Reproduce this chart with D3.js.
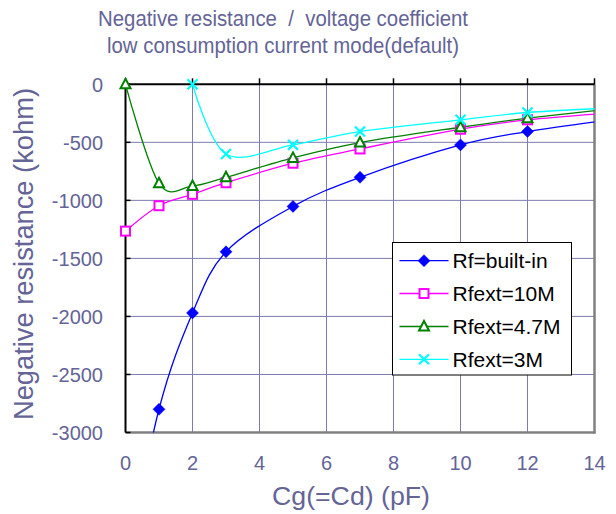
<!DOCTYPE html>
<html><head><meta charset="utf-8">
<script src="https://cdn.jsdelivr.net/npm/d3@7"></script>
<style>body{margin:0;background:#fff}svg{display:block}</style>
</head><body>
<svg id="c" width="616" height="514"></svg>
<script>
const titleLines = ["Negative resistance  /  voltage coefficient", "low consumption current mode(default)"];
const titleWidths = [370, 352];
const xTitle = "Cg(=Cd) (pF)";
const yTitle = "Negative resistance (kohm)";
const xValues = [0, 1, 2, 3, 5, 7, 10, 12, 15];
const rfBuiltIn = [-4200, -2800, -1970, -1443, -1052, -801, -522, -407, -285];
const rfExt10M  = [-1265, -1046, -948, -848, -680, -557, -387, -306, -235];
const rfExt47M  = [0, -853, -876, -801, -634, -502, -370, -292, -196];
const rfExt3M   = [null, null, 0, -600, -522, -407, -306, -243, -198];
const xTicks = [0, 2, 4, 6, 8, 10, 12, 14];
const yTicks = [0, -500, -1000, -1500, -2000, -2500, -3000];
const seriesNames = ["Rf=built-in", "Rfext=10M", "Rfext=4.7M", "Rfext=3M"];

const series = [
  {name: seriesNames[0], vals: rfBuiltIn, color: "#0000ff", marker: "diamond"},
  {name: seriesNames[1], vals: rfExt10M, color: "#ff00ff", marker: "square"},
  {name: seriesNames[2], vals: rfExt47M, color: "#008000", marker: "triangle"},
  {name: seriesNames[3], vals: rfExt3M, color: "#00ffff", marker: "cross"}
];

const textColor = "#646497";
const gridColor = "#7c7cb0";
const font = "Liberation Sans, Arial, sans-serif";

const svg = d3.select("#c");
const L = 125.5, R = 594.5, T = 84.3, B = 432.5;
const x = d3.scaleLinear().domain([0, 14]).range([L, R]);
const y = d3.scaleLinear().domain([-3000, 0]).range([B, T]);

// title
svg.selectAll("text.title").data(titleLines).join("text")
  .attr("x", 283).attr("y", (d, i) => 26 + i * 27)
  .attr("text-anchor", "middle").attr("font-family", font).attr("font-size", 22)
  .style("white-space", "pre").attr("xml:space", "preserve")
  .attr("textLength", (d, i) => titleWidths[i]).attr("lengthAdjust", "spacingAndGlyphs")
  .attr("fill", textColor).text(d => d);

// grid
const g = svg.append("g");
g.selectAll("line.vg").data(xTicks.slice(1, -1)).join("line")
  .attr("x1", d => x(d)).attr("x2", d => x(d)).attr("y1", T).attr("y2", B)
  .attr("stroke", gridColor).attr("stroke-width", 1);
g.selectAll("line.hg").data(yTicks.slice(1, -1)).join("line")
  .attr("x1", L).attr("x2", R).attr("y1", d => y(d)).attr("y2", d => y(d))
  .attr("stroke", gridColor).attr("stroke-width", 1);

// plot border (gray) right & bottom
svg.append("line").attr("x1", R).attr("x2", R).attr("y1", T).attr("y2", B + 1)
  .attr("stroke", "#808080").attr("stroke-width", 2.5);
svg.append("line").attr("x1", L).attr("x2", R + 1).attr("y1", B).attr("y2", B)
  .attr("stroke", "#808080").attr("stroke-width", 2.5);

// axes (black) top and left, with ticks
svg.append("line").attr("x1", L).attr("x2", R).attr("y1", T).attr("y2", T)
  .attr("stroke", "#000").attr("stroke-width", 2);
svg.append("line").attr("x1", L).attr("x2", L).attr("y1", T).attr("y2", B)
  .attr("stroke", "#000").attr("stroke-width", 2);
svg.selectAll("line.xt").data(xTicks).join("line")
  .attr("x1", d => x(d)).attr("x2", d => x(d)).attr("y1", T - 6).attr("y2", T)
  .attr("stroke", "#000").attr("stroke-width", 1.5);
svg.selectAll("line.yt").data(yTicks).join("line")
  .attr("x1", L).attr("x2", L + 5).attr("y1", d => y(d)).attr("y2", d => y(d))
  .attr("stroke", "#000").attr("stroke-width", 1.5);

// tick labels
svg.selectAll("text.xl").data(xTicks).join("text")
  .attr("x", d => x(d)).attr("y", 470).attr("text-anchor", "middle")
  .attr("font-family", font).attr("font-size", 20).attr("fill", textColor).text(d => d);
svg.selectAll("text.yl").data(yTicks).join("text")
  .attr("x", 103).attr("y", d => y(d)).attr("dy", "0.36em").attr("text-anchor", "end")
  .attr("font-family", font).attr("font-size", 20).attr("fill", textColor).text(d => d);

// axis titles
svg.append("text").attr("x", 351).attr("y", 505).attr("text-anchor", "middle")
  .attr("font-family", font).attr("font-size", 25).attr("fill", textColor)
  .attr("textLength", 158).attr("lengthAdjust", "spacingAndGlyphs").text(xTitle);
svg.append("text").attr("transform", "translate(33,254) rotate(-90)").attr("text-anchor", "middle")
  .attr("font-family", font).attr("font-size", 27).attr("fill", textColor)
  .attr("textLength", 332).attr("lengthAdjust", "spacingAndGlyphs").text(yTitle);

// clip
svg.append("clipPath").attr("id", "clip").append("rect")
  .attr("x", L).attr("y", T - 1).attr("width", R - L).attr("height", B - T + 1);

const line = d3.line().defined(d => d[1] !== null)
  .x(d => x(d[0])).y(d => y(d[1])).curve(d3.curveCardinal.tension(0));

function drawMarker(sel, type, color, cx, cy) {
  if (type === "diamond") {
    sel.append("path").attr("d", `M${cx},${cy-6}L${cx+6},${cy}L${cx},${cy+6}L${cx-6},${cy}Z`)
      .attr("fill", color).attr("stroke", color).attr("stroke-width", 0.5);
  } else if (type === "square") {
    sel.append("rect").attr("x", cx - 4.5).attr("y", cy - 4.5).attr("width", 9).attr("height", 9)
      .attr("fill", "#fff").attr("stroke", color).attr("stroke-width", 2);
  } else if (type === "triangle") {
    sel.append("path").attr("d", `M${cx},${cy-5.5}L${cx+5},${cy+4}L${cx-5},${cy+4}Z`)
      .attr("fill", "#fff").attr("stroke", color).attr("stroke-width", 2);
  } else {
    sel.append("path").attr("d", `M${cx-5},${cy-5}L${cx+5},${cy+5}M${cx-5},${cy+5}L${cx+5},${cy-5}`)
      .attr("stroke", color).attr("stroke-width", 2.2);
  }
}

series.forEach(s => {
  const pts = xValues.map((xv, i) => [xv, s.vals[i]]);
  svg.append("path").attr("clip-path", "url(#clip)")
    .attr("d", line(pts)).attr("fill", "none").attr("stroke", s.color).attr("stroke-width", 1.3);
});
series.forEach(s => {
  const mg = svg.append("g");
  xValues.forEach((xv, i) => {
    const v = s.vals[i];
    if (v === null || xv > 14 || v < -3000) return;
    drawMarker(mg, s.marker, s.color, x(xv), y(v));
  });
});

// legend
const lg = svg.append("g");
lg.append("rect").attr("x", 392.5).attr("y", 242.5).attr("width", 179).attr("height", 132.5)
  .attr("fill", "#fff").attr("stroke", "#000").attr("stroke-width", 1);
const rowY = [260.7, 293.5, 326.5, 359.3];
series.forEach((s, i) => {
  lg.append("line").attr("x1", 399.5).attr("x2", 448.5).attr("y1", rowY[i]).attr("y2", rowY[i])
    .attr("stroke", s.color).attr("stroke-width", 1.3);
  drawMarker(lg, s.marker, s.color, 424, rowY[i]);
  lg.append("text").attr("x", 452.5).attr("y", rowY[i]).attr("dy", "0.36em")
    .attr("font-family", font).attr("font-size", 21).attr("fill", "#000").text(s.name);
});
</script>
</body></html>
